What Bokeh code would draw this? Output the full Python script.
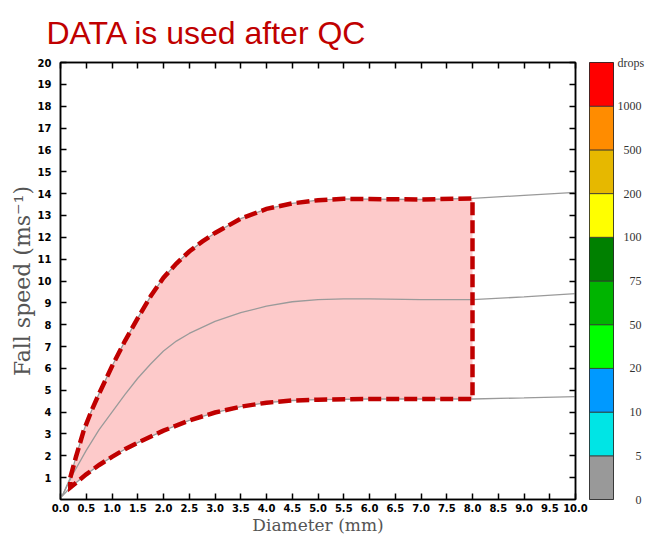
from bokeh.plotting import figure
from bokeh.models import LinearAxis, FixedTicker, PrintfTickFormatter
from bokeh.layouts import row
from bokeh.embed import file_html
from bokeh.resources import INLINE

# ---------------- data ----------------
title_text = "DATA is used after QC"
x_title = "Diameter (mm)"
y_title = "Fall speed (ms\u207b\u00b9)"

# upper fall-speed bound (m/s) vs diameter (mm)
diam_up = [0.03, 0.19, 0.3, 0.45, 0.6, 0.75, 1.0, 1.25, 1.5, 1.75, 2.0, 2.25, 2.5, 2.75,
           3.0, 3.5, 4.0, 4.5, 5.0, 5.5, 6.0, 7.0, 8.0, 9.0, 10.0]
v_up = [0.15, 1.0, 1.95, 3.15, 4.05, 4.85, 6.1, 7.25, 8.3, 9.3, 10.15, 10.8, 11.35, 11.8,
        12.2, 12.85, 13.3, 13.55, 13.7, 13.76, 13.75, 13.73, 13.78, 13.92, 14.06]

# middle (reference) fall-speed curve
diam_mid = [0.03, 0.25, 0.5, 0.75, 1.0, 1.25, 1.5, 1.75, 2.0, 2.25, 2.5, 3.0, 3.5, 4.0,
            4.5, 5.0, 5.5, 6.0, 7.0, 8.0, 9.0, 10.0]
v_mid = [0.15, 1.2, 2.25, 3.2, 4.0, 4.8, 5.55, 6.2, 6.8, 7.25, 7.6, 8.15, 8.55, 8.85,
         9.05, 9.15, 9.18, 9.18, 9.15, 9.15, 9.27, 9.42]

# lower fall-speed bound
diam_lo = [0.03, 0.19, 0.5, 0.75, 1.0, 1.25, 1.5, 2.0, 2.5, 3.0, 3.5, 4.0, 4.5, 5.0,
           6.0, 7.0, 8.0, 9.0, 10.0]
v_lo = [0.15, 0.55, 1.15, 1.58, 1.95, 2.3, 2.6, 3.15, 3.62, 3.98, 4.25, 4.43, 4.53, 4.57,
        4.6, 4.6, 4.6, 4.65, 4.71]

# diameter window of the data used after QC
qc_dmin = 0.19
qc_dmax = 8.0

# colour bar (drop counts)
cb_bins = [0, 1, 2, 3, 4, 5, 6, 7, 8, 9]
cb_colors = ["#999999", "#00E5E5", "#0099FF", "#00FF00", "#00B400",
             "#008000", "#FFFF00", "#E6B800", "#FF8C00", "#FF0000"]
cb_labels = ["0", "5", "10", "20", "50", "75", "100", "200", "500", "1000", "drops"]

x_ticks = [i * 0.5 for i in range(21)]
y_ticks = list(range(1, 21))

# ---------------- styles ----------------
RED = "#C00000"
GREY = "#9A9A9A"
FILL = "#FDCACA"
TICK_FONT = "DejaVu Sans"

p = figure(frame_width=515, frame_height=437, x_range=(0, 10), y_range=(0, 20),
           output_backend="svg", toolbar_location=None,
           min_border_left=60, min_border_right=14, min_border_top=62, min_border_bottom=35,
           x_axis_label=x_title, y_axis_label=y_title)
p.grid.visible = False
p.outline_line_color = "black"
p.outline_line_width = 1.5
p.background_fill_color = "white"
p.border_fill_color = "white"

p.title.text = title_text
p.title.text_font = "Liberation Sans"
p.title.text_font_size = "32px"
p.title.text_font_style = "normal"
p.title.text_color = RED
p.title.align = "left"
p.title.offset = -14
p.title.standoff = 24

# QC region polygon
poly_x = [d for d in diam_up if qc_dmin <= d <= qc_dmax] + \
         [d for d in diam_lo if qc_dmin <= d <= qc_dmax][::-1]
poly_y = [v for d, v in zip(diam_up, v_up) if qc_dmin <= d <= qc_dmax] + \
         [v for d, v in zip(diam_lo, v_lo) if qc_dmin <= d <= qc_dmax][::-1]

p.patch(poly_x, poly_y, fill_color=FILL, line_color=None)
p.line(diam_up, v_up, line_color=GREY, line_width=1.3)
p.line(diam_mid, v_mid, line_color=GREY, line_width=1.3)
p.line(diam_lo, v_lo, line_color=GREY, line_width=1.3)
p.patch(poly_x, poly_y, fill_alpha=0, line_color=RED, line_width=4.5,
        line_dash="13 5", line_join="miter")

def style_axis(ax, labels=True):
    ax.axis_line_color = "black"
    ax.axis_line_width = 1.5
    ax.major_tick_in = 6
    ax.major_tick_out = 0
    ax.major_tick_line_width = 1.5
    ax.major_tick_line_color = "black"
    ax.minor_tick_line_color = None
    ax.major_label_text_font = TICK_FONT
    ax.major_label_text_font_style = "bold"
    if labels:
        ax.major_label_text_font_size = "10px"
        ax.major_label_text_color = "black"
        ax.major_label_standoff = 4
    else:
        ax.major_label_text_font_size = "1px"
        ax.major_label_text_color = None
        ax.major_label_standoff = 0
    ax.axis_label_text_font = "DejaVu Serif"
    ax.axis_label_text_font_style = "normal"
    ax.axis_label_text_color = "#555555"

xa = p.xaxis[0]
xa.ticker = FixedTicker(ticks=x_ticks)
xa.formatter = PrintfTickFormatter(format="%.1f")
style_axis(xa)
xa.axis_label_text_font_size = "17px"
xa.axis_label_standoff = 0

ya = p.yaxis[0]
ya.ticker = FixedTicker(ticks=y_ticks)
style_axis(ya)
ya.major_label_standoff = 9
ya.axis_label_text_font_size = "22px"
ya.axis_label_standoff = 0

top_ax = LinearAxis(ticker=FixedTicker(ticks=x_ticks))
style_axis(top_ax, labels=False)
p.add_layout(top_ax, "above")
right_ax = LinearAxis(ticker=FixedTicker(ticks=y_ticks))
style_axis(right_ax, labels=False)
p.add_layout(right_ax, "right")

# ---------------- colour bar ----------------
cb = figure(frame_width=24, frame_height=437, x_range=(0, 1), y_range=(0, 10),
            output_backend="svg", toolbar_location=None,
            x_axis_location=None, y_axis_location="right",
            min_border_left=0, min_border_right=0, min_border_top=62, min_border_bottom=35)
cb.grid.visible = False
cb.outline_line_color = "#222222"
cb.outline_line_width = 1
cb.border_fill_color = "white"
cb.quad(left=0, right=1, bottom=cb_bins, top=[b + 1 for b in cb_bins],
        fill_color=cb_colors, line_color="#333333", line_width=0.8)
cya = cb.yaxis[0]
cya.ticker = FixedTicker(ticks=list(range(11)))
width4 = max(len(s) for s in cb_labels[:-1])
cya.major_label_overrides = {i: ("\u2007" * (width4 - len(s)) + s) if i < 10 else s
                             for i, s in enumerate(cb_labels)}
cya.axis_line_color = None
cya.major_tick_line_color = None
cya.major_tick_out = 0
cya.major_tick_in = 0
cya.minor_tick_line_color = None
cya.minor_tick_out = 0
cya.major_label_standoff = 4
cya.major_label_text_font = "Liberation Serif"
cya.major_label_text_font_size = "12px"
cya.major_label_text_color = "#333333"

layout = row(p, cb)
open("out.html", "w").write(file_html(layout, INLINE))
